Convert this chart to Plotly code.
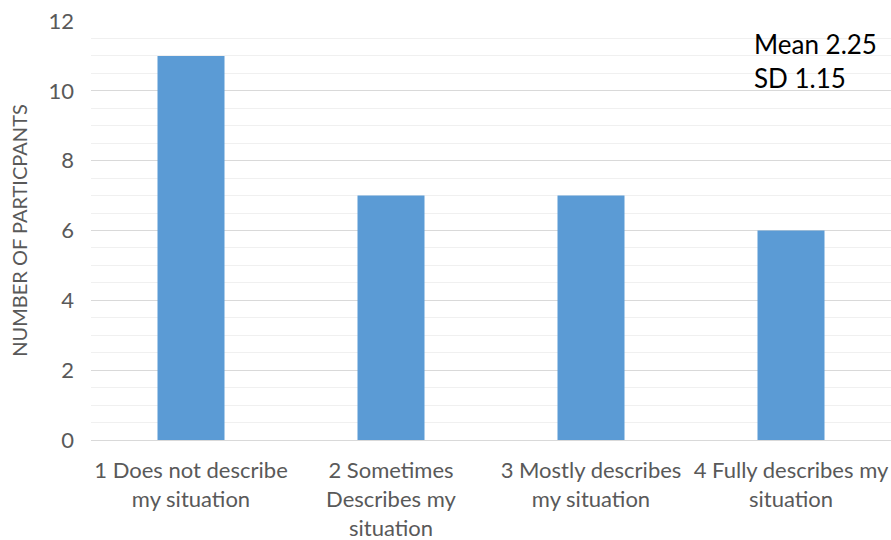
import plotly.graph_objects as go

categories = ["1 Does not describe<br>my situation",
              "2 Sometimes<br>Describes my<br>situation",
              "3 Mostly describes<br>my situation",
              "4 Fully describes my<br>situation"]
counts = [11, 7, 7, 6]
y_ticks = [0, 2, 4, 6, 8, 10, 12]
stats_text = "Mean 2.25<br>SD 1.15"

fig = go.Figure(go.Bar(x=categories, y=counts, marker_color="#5B9BD5",
                       marker_line_width=0, width=0.335))

fig.update_layout(
    width=891, height=540,
    margin=dict(l=91, r=0, t=21, b=100),
    plot_bgcolor="white", paper_bgcolor="white",
    font=dict(family="Lato, Open Sans, sans-serif", color="#595959", size=21),
    showlegend=False,
    yaxis=dict(range=[0, 12], tickvals=y_ticks, showgrid=True, gridcolor="#D9D9D9",
               gridwidth=1, zeroline=False, showline=False, ticks="",
               tickfont=dict(size=22, color="#595959"), ticklabelstandoff=16,
               minor=dict(dtick=0.5, showgrid=True, gridcolor="#F0F0F0", gridwidth=1),
               title=dict(text="NUMBER OF PARTICPANTS", font=dict(size=20, color="#595959"), standoff=15)),
    xaxis=dict(showline=True, linecolor="#D9D9D9", ticks="", showgrid=False,
               tickfont=dict(size=22, color="#595959"), ticklabelstandoff=11),
    bargap=0.665,
)
fig.add_annotation(x=1.0, y=1.0, xref="paper", yref="paper", xanchor="right", yanchor="top",
                   xshift=-12, yshift=-5, text=stats_text, showarrow=False, align="left",
                   font=dict(size=26, color="black", family="Lato, Open Sans, sans-serif"))

fig.write_html("out.html")
